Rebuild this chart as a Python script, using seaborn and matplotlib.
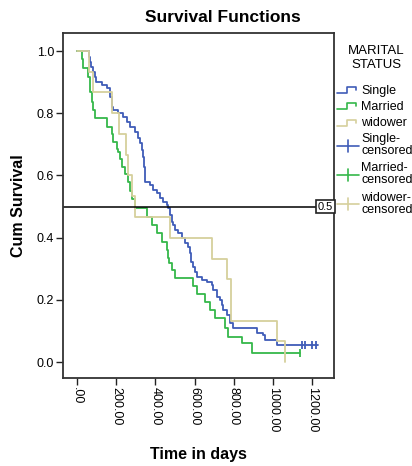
import matplotlib
matplotlib.use("Agg")
import matplotlib.pyplot as plt
import seaborn as sns
import pandas as pd
from matplotlib.lines import Line2D

# ---------------- data ----------------
single_t = [0, 61, 66, 71, 82, 92, 97, 128, 153, 168, 179, 184, 209, 235, 255, 270, 296, 311, 321, 332,
            337, 342, 347, 372, 388, 408, 423, 439, 459, 464, 474, 485, 490, 500, 515, 536, 551, 566, 577, 582,
            592, 602, 612, 638, 663, 689, 694, 714, 730, 740, 745, 765, 781, 796, 918, 949, 959, 1020, 1230]
single_s = [1.0, 0.98, 0.965, 0.95, 0.932, 0.915, 0.9, 0.89, 0.88, 0.852, 0.82, 0.81, 0.80, 0.788, 0.772, 0.756, 0.74, 0.72, 0.704, 0.682,
            0.659, 0.627, 0.58, 0.569, 0.553, 0.543, 0.527, 0.514, 0.505, 0.495, 0.473, 0.45, 0.441, 0.424, 0.415, 0.399, 0.383, 0.37, 0.35, 0.322,
            0.305, 0.289, 0.273, 0.264, 0.257, 0.248, 0.232, 0.209, 0.199, 0.183, 0.167, 0.151, 0.125, 0.109, 0.093, 0.087, 0.071, 0.055, 0.055]
single_cens_t = [1148, 1163, 1199, 1219]
single_cens_s = [0.055, 0.055, 0.055, 0.055]

married_t = [0, 28, 31, 56, 66, 77, 82, 92, 153, 179, 184, 204, 209, 219, 230, 245, 260, 270, 281, 296,
             357, 383, 408, 434, 459, 464, 469, 485, 500, 592, 612, 653, 679, 704, 755, 770, 842, 893, 1138]
married_s = [1.0, 0.975, 0.945, 0.916, 0.868, 0.836, 0.81, 0.785, 0.756, 0.733, 0.707, 0.685, 0.675, 0.653, 0.627, 0.604, 0.579, 0.55, 0.524, 0.495,
             0.466, 0.44, 0.415, 0.386, 0.36, 0.334, 0.318, 0.296, 0.27, 0.245, 0.22, 0.193, 0.167, 0.141, 0.109, 0.08, 0.061, 0.029, 0.029]
married_cens_t = [1138]
married_cens_s = [0.029]

widower_t = [0, 61, 82, 179, 214, 250, 262, 281, 296, 474, 689, 765, 786, 1020, 1061]
widower_s = [1.0, 0.933, 0.867, 0.8, 0.733, 0.667, 0.6, 0.533, 0.467, 0.4, 0.333, 0.267, 0.133, 0.067, 0.0]

groups = ["Single", "Married", "widower"]
colors = {"Single": "#3f5cb8", "Married": "#35b84a", "widower": "#d6d09c"}
legend_labels = ["Single", "Married", "widower", "Single-\ncensored", "Married-\ncensored", "widower-\ncensored"]
legend_title = "MARITAL\nSTATUS"

x_ticks = [0, 200, 400, 600, 800, 1000, 1200]
x_tick_labels = [".00", "200.00", "400.00", "600.00", "800.00", "1000.00", "1200.00"]
y_ticks = [0.0, 0.2, 0.4, 0.6, 0.8, 1.0]
y_tick_labels = ["0.0", "0.2", "0.4", "0.6", "0.8", "1.0"]
ref_value = 0.5

# ---------------- build long table ----------------
frames = []
for g, t, s in [("Single", single_t, single_s), ("Married", married_t, married_s), ("widower", widower_t, widower_s)]:
    frames.append(pd.DataFrame({"time": t, "surv": s, "group": g}))
df = pd.concat(frames, ignore_index=True)

# ---------------- figure ----------------
sns.set_style("white")
plt.rcParams["font.family"] = ["Liberation Sans", "DejaVu Sans"]
plt.rcParams["text.color"] = "black"
plt.rcParams["axes.labelcolor"] = "black"
plt.rcParams["xtick.color"] = "black"
plt.rcParams["ytick.color"] = "black"

W, H = 412, 466
fig = plt.figure(figsize=(W / 100, H / 100), dpi=100)
L, R, T, B = 63, 334, 33, 378
ax = fig.add_axes([L / W, 1 - B / H, (R - L) / W, (B - T) / H])

sns.lineplot(data=df, x="time", y="surv", hue="group", hue_order=groups, palette=colors,
             drawstyle="steps-post", estimator=None, sort=False, legend=False, lw=1.3, ax=ax)

sns.scatterplot(x=single_cens_t, y=single_cens_s, marker="|", s=40, color=colors["Single"], linewidth=1.3, ax=ax, zorder=5)
sns.scatterplot(x=married_cens_t, y=married_cens_s, marker="|", s=40, color=colors["Married"], linewidth=1.3, ax=ax, zorder=5)

ax.set_xlim(-71, 1311)
ax.set_ylim(-0.051, 1.058)

# reference line with boxed label
ax.axhline(ref_value, xmin=0, xmax=(318 - L) / (R - L), color="black", lw=1.1)
ax.text((325.5 - L) / (R - L), ref_value, "0.5", transform=ax.get_yaxis_transform(),
        ha="center", va="center", fontsize=8,
        bbox=dict(boxstyle="square,pad=0.15", fc="white", ec="#222222", lw=1.2))

ax.set_xticks(x_ticks)
ax.set_xticklabels(x_tick_labels, rotation=270, fontsize=9)
ax.set_yticks(y_ticks)
ax.set_yticklabels(y_tick_labels, fontsize=9)
ax.tick_params(axis="both", direction="out", length=5, width=1, color="#222222", pad=1.5,
               bottom=True, left=True, labelcolor="black")

for sp in ax.spines.values():
    sp.set_color("#333333")
    sp.set_linewidth(1.3)
    sp.set_visible(True)

ax.set_xlabel("Time in days", fontsize=11.5, fontweight="bold")
ax.set_ylabel("Cum Survival", fontsize=11.5, fontweight="bold")
ax.xaxis.set_label_coords(0.5, -0.2)
ax.yaxis.set_label_coords((26 - L) / (R - L), 0.5)

fig.text(223 / W, 1 - 17 / H, "Survival Functions", ha="center", va="center",
         fontsize=12.5, fontweight="bold")


# ---------------- legend (laid out in figure pixels) ----------------
def fx(px):
    return px / W


def fy(py):
    return 1 - py / H


fig.text(fx(376), fy(58), legend_title, ha="center", va="center", fontsize=9.5,
         linespacing=1.2, multialignment="center")

text_x = 361
step_rows = [(93, 91), (109, 107), (126, 123)]      # (handle y, text y)
cens_rows = [(146, 145), (175, 174), (204, 204)]

for g, (hy, ty), lab in zip(groups, step_rows, legend_labels[:3]):
    xs = [337, 347, 347, 356, 356]
    ys = [hy, hy, hy - 6, hy - 6, hy - 3]
    fig.add_artist(Line2D([fx(v) for v in xs], [fy(v) for v in ys], color=colors[g], lw=1.2,
                          transform=fig.transFigure))
    fig.text(fx(text_x), fy(ty), lab, ha="left", va="center", fontsize=9)

for g, (hy, ty), lab in zip(groups, cens_rows, legend_labels[3:]):
    fig.add_artist(Line2D([fx(337), fx(359)], [fy(hy), fy(hy)], color=colors[g], lw=1.2,
                          transform=fig.transFigure))
    fig.add_artist(Line2D([fx(348), fx(348)], [fy(hy - 6), fy(hy + 6)], color=colors[g], lw=1.2,
                          transform=fig.transFigure))
    fig.text(fx(text_x), fy(ty), lab, ha="left", va="center", fontsize=9, linespacing=1.0)

fig.savefig("out.png", dpi=100)
